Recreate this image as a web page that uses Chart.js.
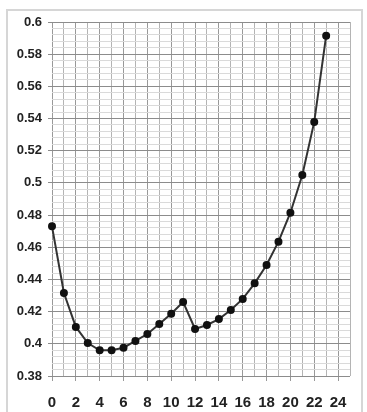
<!DOCTYPE html>
<html>
<head>
<meta charset="utf-8">
<script src="https://cdn.jsdelivr.net/npm/chart.js@4/dist/chart.umd.min.js"></script>
<style>
  html, body { margin: 0; padding: 0; background: #fff; }
  .frame {
    position: absolute; left: 6px; top: 9px; width: 357px; height: 420px;
    border: 2px solid #d6d6d6; box-sizing: border-box;
  }
  .wrap { position: absolute; left: 0; top: 0; width: 367px; height: 412px; }
</style>
</head>
<body>
<div class="frame"></div>
<div class="wrap"><canvas id="chart"></canvas></div>
<script>
const hours = [0, 1, 2, 3, 4, 5, 6, 7, 8, 9, 10, 11, 12, 13, 14, 15, 16, 17, 18, 19, 20, 21, 22, 23];
const values = [0.473, 0.4316, 0.4105, 0.4005, 0.396, 0.396, 0.3976, 0.4018, 0.4061, 0.4123, 0.4187, 0.426,
  0.4092, 0.4117, 0.4154, 0.421, 0.4279, 0.4376, 0.449, 0.4635, 0.4815, 0.5049, 0.5379, 0.5915];
const xTickLabels = ['0', '2', '4', '6', '8', '10', '12', '14', '16', '18', '20', '22', '24'];
const yTickLabels = ['0.38', '0.4', '0.42', '0.44', '0.46', '0.48', '0.5', '0.52', '0.54', '0.56', '0.58', '0.6'];

function isMajorY(v) {
  return Math.round(v * 1000) % 20 === 0;
}
function isMajorX(v) {
  return Math.round(v) % 2 === 0;
}

const ctx = document.getElementById('chart');
new Chart(ctx, {
  type: 'line',
  data: {
    datasets: [{
      data: hours.map((h, i) => ({ x: h, y: values[i] })),
      borderColor: '#333',
      borderWidth: 2,
      pointRadius: 3,
      pointBackgroundColor: '#111',
      pointBorderColor: '#111',
      tension: 0,
      clip: false
    }]
  },
  options: {
    responsive: true,
    maintainAspectRatio: false,
    animation: false,
    layout: { padding: { left: 0, right: 17, top: 22, bottom: 0 } },
    plugins: { legend: { display: false }, tooltip: { enabled: false } },
    scales: {
      x: {
        type: 'linear',
        min: 0,
        max: 25,
        border: { display: false },
        grid: {
          color: (c) => isMajorX(c.tick.value) ? '#999' : '#b4b4b4',
          tickColor: (c) => isMajorX(c.tick.value) ? '#999' : 'rgba(0,0,0,0)',
          tickLength: 5
        },
        ticks: {
          stepSize: 1,
          autoSkip: false,
          maxRotation: 0,
          padding: 13,
          color: '#222',
          font: { family: 'Liberation Sans, Arial', size: 15, weight: 'bold' },
          callback: (v) => {
            const s = String(Math.round(v));
            return isMajorX(v) && xTickLabels.includes(s) ? s : '';
          }
        },
        afterFit: (scale) => { scale.height = 36; }
      },
      y: {
        min: 0.38,
        max: 0.6,
        border: { display: false },
        grid: {
          color: (c) => isMajorY(c.tick.value) ? '#8c8c8c' : '#dadada',
          tickColor: (c) => isMajorY(c.tick.value) ? '#8c8c8c' : 'rgba(0,0,0,0)',
          tickLength: 4
        },
        ticks: {
          stepSize: 0.004,
          autoSkip: false,
          padding: 6,
          color: '#222',
          font: { family: 'Liberation Sans, Arial', size: 13, weight: 'bold' },
          callback: (v) => {
            const s = String(Number(v.toFixed(2)));
            return isMajorY(v) && yTickLabels.includes(s) ? s : '';
          }
        },
        afterFit: (scale) => { scale.width = 52; }
      }
    }
  }
});
</script>
</body>
</html>
